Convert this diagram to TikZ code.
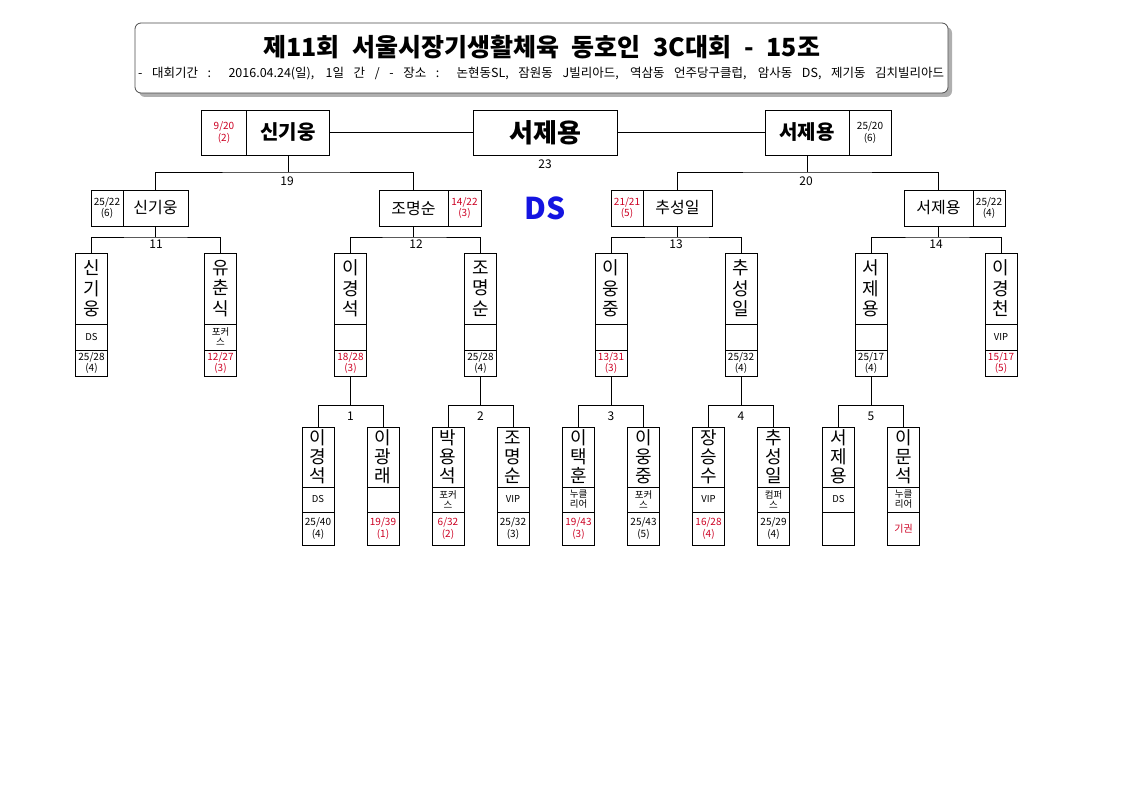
\documentclass[tikz,border=0pt]{standalone}
\usepackage{fontspec}
\setmainfont{Noto Sans CJK KR}
\definecolor{lose}{RGB}{204,0,34}
\definecolor{dsblue}{RGB}{20,20,225}
\definecolor{shadowgray}{RGB}{175,175,175}
\newcommand\rtwo[6]{%
  \node[cell,minimum height=71pt,vnameA] (#1) at (#2,288.5) {#3};
  \node[cell,minimum height=26pt,club] (#1c) at (#2,337) {#4};
  \node[cell,minimum height=26pt,score,text=#6] (#1s) at (#2,363) {#5};
}
\newcommand\rone[6]{%
  \node[cell,minimum height=60pt,vnameB] (#1) at (#2,457) {#3};
  \node[cell,minimum height=25pt,club] (#1c) at (#2,499.5) {#4};
  \node[cell,minimum height=33pt,score,text=#6] (#1s) at (#2,528.5) {#5};
}
\begin{document}
\begin{tikzpicture}[x=1pt,y=-1pt,
  cell/.style={draw,line width=0.8pt,inner sep=0pt,minimum width=32pt,align=center},
  conn/.style={draw,line width=0.8pt},
  vnameA/.style={font=\fontsize{18}{20.5}\selectfont},
  vnameB/.style={font=\fontsize{18}{19}\selectfont},
  club/.style={font=\fontsize{9.5}{10}\selectfont},
  score/.style={font=\fontsize{10}{11.5}\selectfont},
  qname/.style={font=\fontsize{16}{18}\selectfont},
  sname/.style={font=\fontsize{20}{22}\selectfont\bfseries},
  fname/.style={font=\fontsize{26}{28}\selectfont\bfseries},
  lbl/.style={inner sep=0pt,font=\fontsize{12}{13}\selectfont},
]
\useasboundingbox (0,0) rectangle (1123,794);
% title box
\fill[shadowgray,rounded corners=6pt] (139,27) rectangle (952,97);
\node[draw=black!70,fill=white,line width=0.8pt,rounded corners=6pt,minimum width=813pt,minimum height=70pt,inner sep=0pt] (tb) at (541.5,58) {};
\node[inner sep=0pt,font=\fontsize{25}{28}\selectfont\bfseries] (ttl) at (541.5,47) {\makebox[557pt][s]{제11회 서울시장기생활체육 동호인 3C대회 - 15조}};
\node[inner sep=0pt,anchor=west,font=\fontsize{12.5}{14}\selectfont] (sub) at (138,73.5) {\makebox[806pt][s]{- 대회기간 : 2016.04.24(일), 1일 간 / - 장소 : 논현동SL, 잠원동 J빌리아드, 역삼동 언주당구클럽, 암사동 DS, 제기동 김치빌리아드}};
% final and semis
\node[cell,minimum width=144pt,minimum height=45pt,fname] (fin) at (545.5,132.5) {서제용};
\node[lbl] (l23) at (545,164) {23};
\node[cell,minimum width=45pt,minimum height=45pt,score,text=lose] (s1s) at (224,132.5) {9/20\\(2)};
\node[cell,minimum width=83pt,minimum height=45pt,sname] (s1) at (288,132.5) {신기웅};
\node[cell,minimum width=84pt,minimum height=45pt,sname] (s2) at (807,132.5) {서제용};
\node[cell,minimum width=42pt,minimum height=45pt,score] (s2s) at (870,132.5) {25/20\\(6)};
\draw[conn] (s1.east) -- (fin.west);
\draw[conn] (fin.east) -- (s2.west);
% quarters
\node[cell,minimum width=32pt,minimum height=36pt,score] (q1s) at (107,208) {25/22\\(6)};
\node[cell,minimum width=65pt,minimum height=36pt,qname] (q1) at (155.5,208) {신기웅};
\node[cell,minimum width=69pt,minimum height=36pt,qname] (q2) at (413.5,208) {조명순};
\node[cell,minimum width=33pt,minimum height=36pt,score,text=lose] (q2s) at (464.5,208) {14/22\\(3)};
\node[cell,minimum width=32pt,minimum height=36pt,score,text=lose] (q3s) at (627,208) {21/21\\(5)};
\node[cell,minimum width=69pt,minimum height=36pt,qname] (q3) at (677.5,208) {추성일};
\node[cell,minimum width=69pt,minimum height=36pt,qname] (q4) at (938.5,208) {서제용};
\node[cell,minimum width=32pt,minimum height=36pt,score] (q4s) at (989,208) {25/22\\(4)};
\node[inner sep=0pt,text=dsblue,font=\fontsize{30}{31}\selectfont\bfseries] (ds) at (545.5,208) {DS};
\coordinate (b19) at (288,172);
\coordinate (b20) at (807,172);
\draw[conn] (s1.south) -- (b19);
\draw[conn] (q1.north) |- (b19) -| (q2.north);
\draw[conn] (s2.south) -- (b20);
\draw[conn] (q3.north) |- (b20) -| (q4.north);
\node[lbl] (l19) at (287,181.5) {19};
\node[lbl] (l20) at (806,181.5) {20};
% round 2
\rtwo{p1}{91.5}{신\\기\\웅}{DS}{25/28\\(4)}{black}
\rtwo{p2}{220.5}{유\\춘\\식}{포커\\스}{12/27\\(3)}{lose}
\rtwo{p3}{350.5}{이\\경\\석}{}{18/28\\(3)}{lose}
\rtwo{p4}{480.5}{조\\명\\순}{}{25/28\\(4)}{black}
\rtwo{p5}{611}{이\\웅\\중}{}{13/31\\(3)}{lose}
\rtwo{p6}{741}{추\\성\\일}{}{25/32\\(4)}{black}
\rtwo{p7}{871}{서\\제\\용}{}{25/17\\(4)}{black}
\rtwo{p8}{1001}{이\\경\\천}{VIP}{15/17\\(5)}{lose}
\coordinate (b11) at (155.5,237);
\coordinate (b12) at (413.5,237);
\coordinate (b13) at (677.5,237);
\coordinate (b14) at (938.5,237);
\draw[conn] (q1.south) -- (b11);
\draw[conn] (q2.south) -- (b12);
\draw[conn] (q3.south) -- (b13);
\draw[conn] (q4.south) -- (b14);
\draw[conn] (p1.north) |- (b11) -| (p2.north);
\draw[conn] (p3.north) |- (b12) -| (p4.north);
\draw[conn] (p5.north) |- (b13) -| (p6.north);
\draw[conn] (p7.north) |- (b14) -| (p8.north);
\node[lbl] (l11) at (156,244.5) {11};
\node[lbl] (l12) at (416,244.5) {12};
\node[lbl] (l13) at (676,244.5) {13};
\node[lbl] (l14) at (936,244.5) {14};
% round 1
\rone{a1}{318}{이\\경\\석}{DS}{25/40\\(4)}{black}
\rone{a2}{383}{이\\광\\래}{}{19/39\\(1)}{lose}
\rone{a3}{448}{박\\용\\석}{포커\\스}{6/32\\(2)}{lose}
\rone{a4}{513}{조\\명\\순}{VIP}{25/32\\(3)}{black}
\rone{a5}{578.5}{이\\택\\훈}{누클\\리어}{19/43\\(3)}{lose}
\rone{a6}{643.5}{이\\웅\\중}{포커\\스}{25/43\\(5)}{black}
\rone{a7}{708.5}{장\\승\\수}{VIP}{16/28\\(4)}{lose}
\rone{a8}{773.5}{추\\성\\일}{컴퍼\\스}{25/29\\(4)}{black}
\rone{a9}{838.5}{서\\제\\용}{DS}{}{black}
\rone{a10}{903.5}{이\\문\\석}{누클\\리어}{기권}{lose}
\coordinate (m1) at (350.5,405.7);
\coordinate (m2) at (480.5,405.7);
\coordinate (m3) at (611,405.7);
\coordinate (m4) at (741,405.7);
\coordinate (m5) at (871,405.7);
\draw[conn] (p3s.south) -- (m1);
\draw[conn] (p4s.south) -- (m2);
\draw[conn] (p5s.south) -- (m3);
\draw[conn] (p6s.south) -- (m4);
\draw[conn] (p7s.south) -- (m5);
\draw[conn] (a1.north) |- (m1) -| (a2.north);
\draw[conn] (a3.north) |- (m2) -| (a4.north);
\draw[conn] (a5.north) |- (m3) -| (a6.north);
\draw[conn] (a7.north) |- (m4) -| (a8.north);
\draw[conn] (a9.north) |- (m5) -| (a10.north);
\node[lbl] (n1) at (350.5,416) {1};
\node[lbl] (n2) at (480.5,416) {2};
\node[lbl] (n3) at (611,416) {3};
\node[lbl] (n4) at (741,416) {4};
\node[lbl] (n5) at (871,416) {5};
\end{tikzpicture}
\end{document}
